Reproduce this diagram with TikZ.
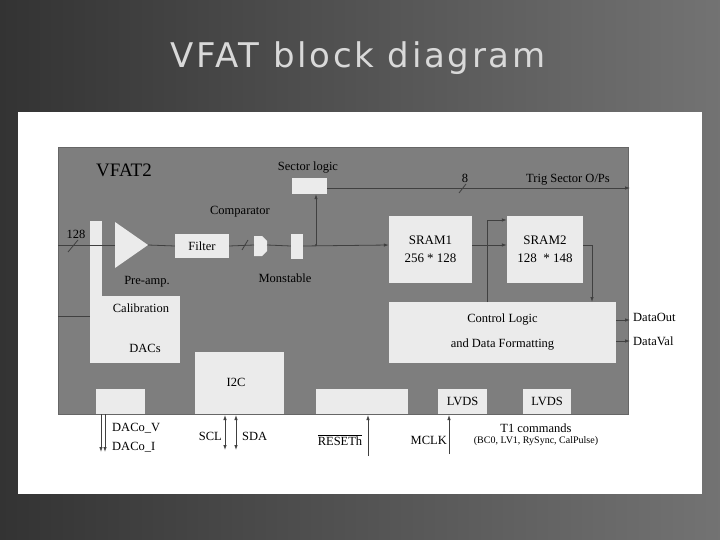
\documentclass[tikz,border=0pt]{standalone}
\usepackage{fontspec}
\setmainfont{Liberation Serif}
\newfontfamily\titlefont{DejaVu Sans}[LetterSpace=8]
\usetikzlibrary{arrows.meta}
\definecolor{panelgray}{HTML}{7E7E7E}
\definecolor{boxw}{HTML}{EBEBEB}
\begin{document}
\begin{tikzpicture}[x=1pt,y=-1pt,
  blk/.style={fill=boxw,draw=none},
  wire/.style={draw=black!75,line width=0.8pt},
  arr/.style={wire,-{Latex[length=5pt,width=3.5pt]}},
  lbl/.style={font=\fontsize{12.5}{13}\selectfont,inner sep=0pt},
  ]
\useasboundingbox (0,0) rectangle (720,540);
\shade[left color=black!80,right color=black!55] (0,0) rectangle (720,540);
\node[font=\titlefont\fontsize{34}{36}\selectfont,text=black!15] (title) at (358,58) {VFAT block diagram};
\fill[white] (18,112) rectangle (702,494);
\draw[fill=panelgray,draw=black!60,line width=0.8pt] (58,147) rectangle (628,414);
\node[lbl,font=\fontsize{19}{20}\selectfont] (vfat) at (124,170) {VFAT2};
% sector logic
\node[blk,minimum width=35,minimum height=16] (sector) at (309.5,186) {};
\node[lbl] (sectorl) at (308,168) {Sector logic};
\coordinate (trigend) at (630,188);
\draw[arr] (sector.east |- 0,188) -- (trigend);
\draw[wire] (459,193) -- (466,184);
\node[lbl] (eight) at (465,178) {8};
\node[lbl] (trig) at (568,180) {Trig Sector O/Ps};
% input
\coordinate (in) at (58,245);
\node[lbl] (n128) at (76,234) {128};
\draw[wire] (68,252) -- (78,240);
\draw[fill=boxw,draw=none] (90,221) rectangle (102,320);
\node[blk,minimum width=78,minimum height=24,lbl] (calib) at (141,308) {Calibration};
\node[blk,minimum width=90,minimum height=43,anchor=north west] (dacs) at (90,320) {};
\node[lbl] at (145,348) {DACs};
\draw[wire] (58,316) -- (90,316);
\draw[wire] (58,245) -- (115,245);
\draw[fill=boxw,draw=none] (115,222) -- (148,245) -- (115,268) -- cycle;
\node[lbl] (preamp) at (147,282) {Pre-amp.};
\node[blk,minimum width=54,minimum height=24,lbl] (filter) at (202,246) {Filter};
\draw[wire] (148,245) -- (filter.west);
\node[lbl] (compl) at (240,212) {Comparator};
\draw[fill=boxw,draw=none] (254,236) -- (262,236) -- (267,241) -- (267,251) -- (262,256) -- (254,256) -- cycle;
\draw[wire] (filter.east) -- (254,245);
\draw[wire] (242,250) -- (248,240);
\node[blk,minimum width=12,minimum height=25] (mono) at (297,246) {};
\draw[wire] (267,245) -- (mono.west);
\node[lbl] (monol) at (285,278) {Monstable};
% srams
\node[blk,minimum width=83,minimum height=67,align=center,lbl,font=\fontsize{13}{18}\selectfont] (sram1) at (430.5,249.5) {SRAM1\\256 * 128};
\node[blk,minimum width=76,minimum height=67,align=center,lbl,font=\fontsize{13}{18}\selectfont] (sram2) at (545,249.5) {SRAM2\\128 \ * 148};
\draw[arr] (mono.east) -- (sram1.west |- 0,245);
\draw[arr] (316,245) -- (sector.south -| 316,0);
\fill[black!75] (316,245) circle (1.2pt);
\draw[arr] (sram1.east |- 0,245) -- (sram2.west |- 0,245);
\node[blk,minimum width=227,minimum height=61,align=center,lbl,font=\fontsize{12.5}{25}\selectfont] (ctrl) at (502.5,332.5) {Control Logic\\and Data Formatting};
\draw[arr] (487,302) -- (487,220) -- (sram2.west |- 0,220);
\draw[arr] (sram2.east |- 0,245) -- (592,245) -- (592,302);
\coordinate (dout) at (630,320);
\coordinate (dval) at (630,341);
\draw[arr] (ctrl.east |- dout) -- (dout);
\draw[arr] (ctrl.east |- dval) -- (dval);
\node[lbl,anchor=west] (doutl) at (633,317) {DataOut};
\node[lbl,anchor=west] (dvall) at (633,341) {DataVal};
% bottom
\node[blk,minimum width=89,minimum height=62,anchor=north west] (i2c) at (195,352) {};
\node[lbl] at (236,382) {I2C};
\node[blk,minimum width=49,minimum height=25,anchor=north west] (dacout) at (96,389) {};
\node[blk,minimum width=92,minimum height=25,anchor=north west] (reset) at (316,389) {};
\node[blk,minimum width=49,minimum height=25,lbl] (lvds1) at (462.5,401.5) {LVDS};
\node[blk,minimum width=48,minimum height=25,lbl] (lvds2) at (547,401.5) {LVDS};
\coordinate (dv) at (101,452); \coordinate (di) at (105,452);
\draw[arr] (101,414) -- (dv);
\draw[arr] (105,414) -- (di);
\node[lbl,anchor=west] (dacov) at (112,428) {DACo\_V};
\node[lbl,anchor=west] (dacoi) at (112,447) {DACo\_I};
\coordinate (scl) at (225,450); \coordinate (sda) at (236,450);
\draw[wire,{Latex[length=5pt,width=3.5pt]}-{Latex[length=5pt,width=3.5pt]}] (225,415) -- (scl);
\draw[wire,{Latex[length=5pt,width=3.5pt]}-{Latex[length=5pt,width=3.5pt]}] (236,415) -- (sda);
\node[lbl,anchor=east] (scll) at (222,436) {SCL};
\node[lbl,anchor=west] (sdal) at (242,436) {SDA};
\coordinate (rs) at (368,456);
\draw[arr] (rs) -- (368,415);
\node[lbl] (rsl) at (340,440) {$\overline{\mbox{RESETh}}$};
\coordinate (mc) at (449,454);
\draw[arr] (mc) -- (449,415);
\node[lbl,anchor=east] (mcl) at (447,440) {MCLK};
\node[lbl] (t1) at (536,428) {T1 commands};
\node[lbl,font=\fontsize{10}{11}\selectfont] (t1b) at (536,441) {(BC0, LV1, RySync, CalPulse)};
\end{tikzpicture}
\end{document}
